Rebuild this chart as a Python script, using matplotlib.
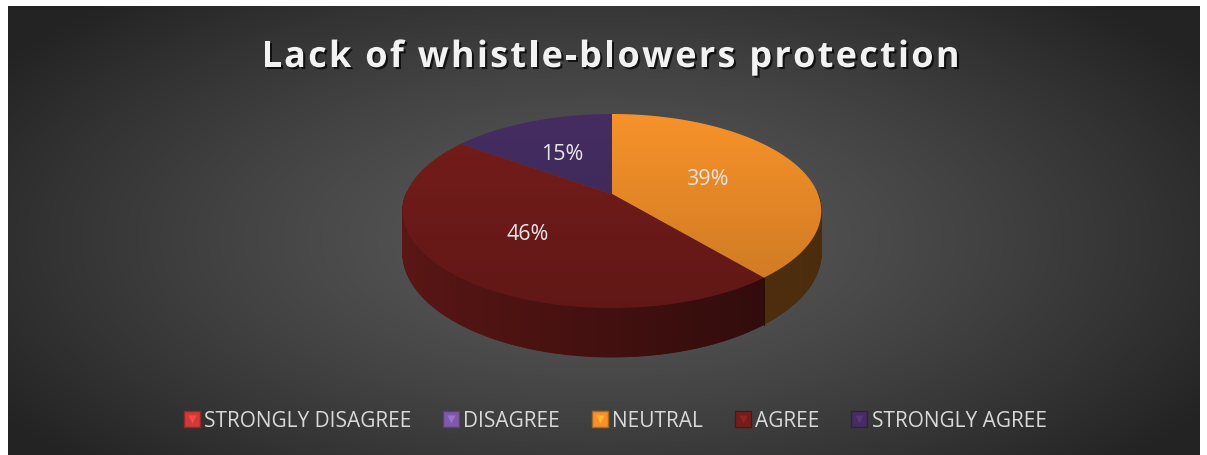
import numpy as np
import matplotlib
matplotlib.use("Agg")
from matplotlib import pyplot as plt
from matplotlib.patches import Polygon
from matplotlib.lines import Line2D
from matplotlib import patheffects as pe
from matplotlib.colors import to_rgb
from matplotlib.font_manager import FontProperties, findfont
from matplotlib.ft2font import FT2Font

categories = ["STRONGLY DISAGREE", "DISAGREE", "NEUTRAL", "AGREE", "STRONGLY AGREE"]
values = [0, 0, 39, 46, 15]
colors = ["#d03a38", "#7e5ba8", "#f7922a", "#761d1b", "#452d62"]
title = "Lack of whistle-blowers protection"

W, H = 1207, 456
fig = plt.figure(figsize=(W / 100, H / 100), dpi=100)
fig.patch.set_facecolor("white")
ax = fig.add_axes([0, 0, 1, 1])
ax.set_xlim(0, W)
ax.set_ylim(H, 0)
ax.axis("off")

# background: radial gradient
bx0, bx1, by0, by1 = 8, 1200, 7, 456
gx, gy = np.meshgrid(np.linspace(bx0, bx1, 400), np.linspace(by0, by1, 160))
r = np.sqrt(((gx - 600) / 720) ** 2 + ((gy - 240) / 330) ** 2)
t = np.clip(r, 0, 1) ** 1.3
c_in, c_out = np.array(to_rgb("#5a5a5a")), np.array(to_rgb("#232323"))
bg = c_in[None, None, :] * (1 - t[..., None]) + c_out[None, None, :] * t[..., None]
ax.imshow(bg, extent=(bx0, bx1, by1, by0), aspect="auto", zorder=0, interpolation="bilinear")

# 3d pie with a bit of perspective (far side smaller)
cx, cy, C, B, k, depth = 612, 195, 206, 94, 0.175, 40.5


def pt(a, down=False, rr=1.0):
    X, Y = rr * np.cos(a), rr * np.sin(a)
    g = 1.0 / (1.0 + k * Y)
    y = cy - B * Y * g + (depth * g if down else 0)
    return cx + C * X * g, y


def shade(c, f):
    return tuple(np.clip(np.array(to_rgb(c)) * f, 0, 1))


total = float(sum(values))
start = np.pi / 2
slices = []
for cat, v, c in zip(categories, values, colors):
    if v == 0:
        continue
    a0 = start
    a1 = start - v / total * 2 * np.pi
    slices.append((cat, v, c, a0, a1))
    start = a1

# side walls (front half only)
for cat, v, c, a0, a1 in slices:
    angs = np.linspace(min(a0, a1), max(a0, a1), 240)
    for k_ in range(len(angs) - 1):
        am = 0.5 * (angs[k_] + angs[k_ + 1])
        if np.sin(am) > 0.02:
            continue
        xa, ya = pt(angs[k_])
        xb, yb = pt(angs[k_ + 1])
        xc, yc = pt(angs[k_ + 1], True)
        xd, yd = pt(angs[k_], True)
        u = (np.cos(am) + 1) / 2
        f = 0.78 - 0.45 * u
        if c == "#f7922a":
            f = 0.37 - 0.07 * u
        ax.add_patch(Polygon([(xa, ya), (xb, yb), (xc, yc), (xd, yd)], closed=True,
                             facecolor=shade(c, f), edgecolor=shade(c, f),
                             linewidth=0.6, zorder=2))

# seam line where slices meet on the side
for cat, v, c, a0, a1 in slices:
    for a in (a0, a1):
        if np.sin(a) < 0 and c == "#f7922a":
            x1, y1 = pt(a)
            x2, y2 = pt(a, True)
            ax.plot([x1, x2], [y1, y2], color="#2a0b06", lw=0.8, zorder=3)

# top faces with vertical gradient
ytop, ybot = pt(np.pi / 2)[1], pt(-np.pi / 2)[1]
for cat, v, c, a0, a1 in slices:
    angs = np.linspace(a0, a1, 240)
    verts = [(cx, cy)] + [pt(a) for a in angs]
    poly = Polygon(verts, closed=True, facecolor="none", edgecolor="none", zorder=4)
    ax.add_patch(poly)
    grad = np.linspace(1.0, 0.82, 100)[:, None, None] * np.array(to_rgb(c))[None, None, :]
    grad = np.repeat(grad, 2, axis=1)
    im = ax.imshow(np.clip(grad, 0, 1), extent=(cx - C * 1.1, cx + C * 1.1, ybot, ytop),
                   aspect="auto", zorder=4, interpolation="bilinear")
    im.set_clip_path(poly)

# data labels
for cat, v, c, a0, a1 in slices:
    am = 0.5 * (a0 + a1)
    lx, ly = pt(am, rr=0.53)
    ax.text(lx - 4, ly + 1, f"{v}%", color="#e6e6e6", fontsize=15.5, ha="center", va="center",
            family="Open Sans", zorder=6)

# title with letter spacing
tprop = FontProperties(family="Open Sans", weight="bold", size=26)
font = FT2Font(findfont(tprop))
font.set_size(26, 100)
spacing = 2.25
advs = [font.load_char(ord(ch)).linearHoriAdvance / 65536.0 for ch in title]
tw = sum(advs) + spacing * (len(title) - 1)
x = 610.5 - tw / 2
shadow = [pe.SimplePatchShadow(offset=(1.5, -1.5), shadow_rgbFace="black", alpha=0.7), pe.Normal()]
for ch, adv in zip(title, advs):
    if ch != " ":
        ax.text(x, 68, ch, color="#f2f2f2", fontproperties=tprop, ha="left", va="baseline",
                zorder=6, path_effects=shadow)
    x += adv + spacing

# legend
handles = []
for c in colors:
    sq = Line2D([], [], marker="s", markersize=11, linestyle="", markerfacecolor=c,
                markeredgecolor=shade(c, 0.7))
    tri = Line2D([], [], marker="v", markersize=5.5, linestyle="", markerfacecolor=shade(c, 1.25),
                 markeredgecolor="none")
    handles.append((sq, tri))
leg = fig.legend(handles, categories, loc="center", bbox_to_anchor=(616 / W, 1 - 422 / H),
                 ncol=5, frameon=False, handlelength=0.6, handletextpad=0.3,
                 columnspacing=1.6, prop={"family": "Open Sans", "size": 15})
for txt in leg.get_texts():
    txt.set_color("#d9d9d9")

fig.savefig("out.png", dpi=100, facecolor=fig.get_facecolor())
